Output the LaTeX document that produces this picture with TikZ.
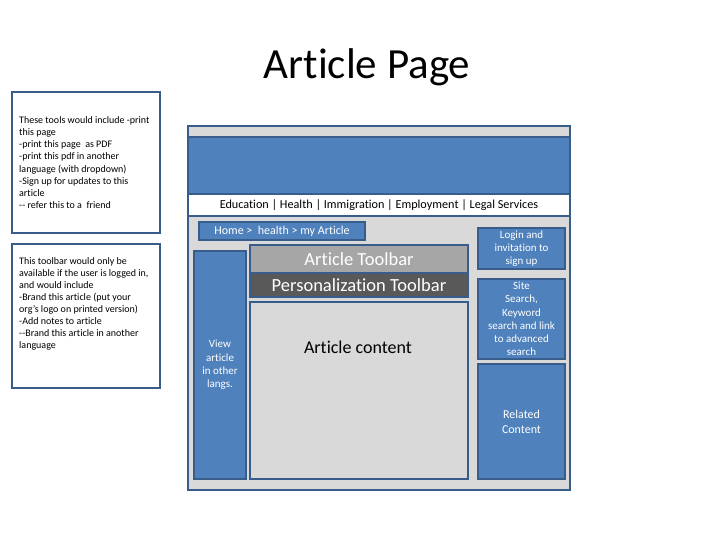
\documentclass[tikz,border=0pt]{standalone}
\usepackage{fontspec}
\setmainfont{Carlito}[Ligatures=NoCommon]
\definecolor{boxblue}{RGB}{79,129,189}
\definecolor{edgeblue}{RGB}{56,93,138}
\definecolor{pagegray}{RGB}{217,217,217}
\definecolor{barlight}{RGB}{166,166,166}
\definecolor{bardark}{RGB}{89,89,89}

\begin{document}
\begin{tikzpicture}[x=1pt,y=-1pt,
  panel/.style={draw=edgeblue, line width=2pt, inner sep=0pt, anchor=north west},
  bluepanel/.style={panel, fill=boxblue, text=white, align=center},
  notebox/.style={panel, fill=white},
  notetext/.style={anchor=north west, align=left, inner sep=0pt,
    font=\fontsize{10}{12.1}\selectfont}]
\useasboundingbox (0,0) rectangle (728,546);

\node[anchor=base, font=\fontsize{43}{48}\selectfont] (title) at (367,78) {Article Page};

% notes on the left
\node[notebox, minimum width=148, minimum height=141] (note1) at (11,91) {};
\node[notetext] (note1text) at (19,116.5) {These tools would include -print\\
this page\\
-print this page~ as PDF\\
-print this pdf in another\\
language (with dropdown)\\
-Sign up for updates to this\\
article\\
-{}- refer this to a~ friend};

\node[notebox, minimum width=148, minimum height=144] (note2) at (11,243) {};
\node[notetext] (note2text) at (19,257) {This toolbar would only be\\
available if the user is logged in,\\
and would include\\
-Brand this article (put your\\
org's logo on printed version)\\
-Add notes to article\\
-{}-Brand this article in another\\
language};

% page frame
\node[panel, fill=pagegray, minimum width=382, minimum height=364] (page) at (187,125) {};
\node[panel, fill=boxblue, minimum width=382, minimum height=57] (banner) at (187,136) {};
\node[panel, fill=white, minimum width=382, minimum height=22,
  font=\fontsize{12.2}{14}\selectfont] (nav) at (187,193)
  {Education | Health | Immigration | Employment | Legal Services};

\node[bluepanel, minimum width=166, minimum height=18,
  font=\fontsize{12}{14}\selectfont] (crumbs) at (198,221) {Home >~ health > my Article};

\node[bluepanel, minimum width=52, minimum height=228,
  font=\fontsize{11}{13.3}\selectfont] (langs) at (193,250) {View\\article\\in other\\langs.};

\node[panel, fill=barlight, text=white, minimum width=218, minimum height=28,
  font=\fontsize{18.5}{20}\selectfont] (toolbar) at (249,244) {Article Toolbar};
\node[panel, fill=bardark, text=white, minimum width=218, minimum height=24,
  font=\fontsize{18.5}{20}\selectfont] (personal) at (249,272) {Personalization Toolbar};
\node[panel, fill=pagegray, minimum width=218, minimum height=177] (content) at (249,301) {};
\node[font=\fontsize{18}{20}\selectfont] (contenttext) at (358,347) {Article content};

\node[bluepanel, minimum width=87, minimum height=41,
  font=\fontsize{11}{13}\selectfont] (login) at (477,227) {Login and\\invitation to\\sign up};
\node[bluepanel, minimum width=87, minimum height=80,
  font=\fontsize{11}{13.2}\selectfont] (search) at (477,278)
  {Site\\Search,\\Keyword\\search and link\\to advanced\\search};
\node[bluepanel, minimum width=87, minimum height=115,
  font=\fontsize{12}{15}\selectfont] (related) at (477,363) {Related\\Content};

\end{tikzpicture}
\end{document}
